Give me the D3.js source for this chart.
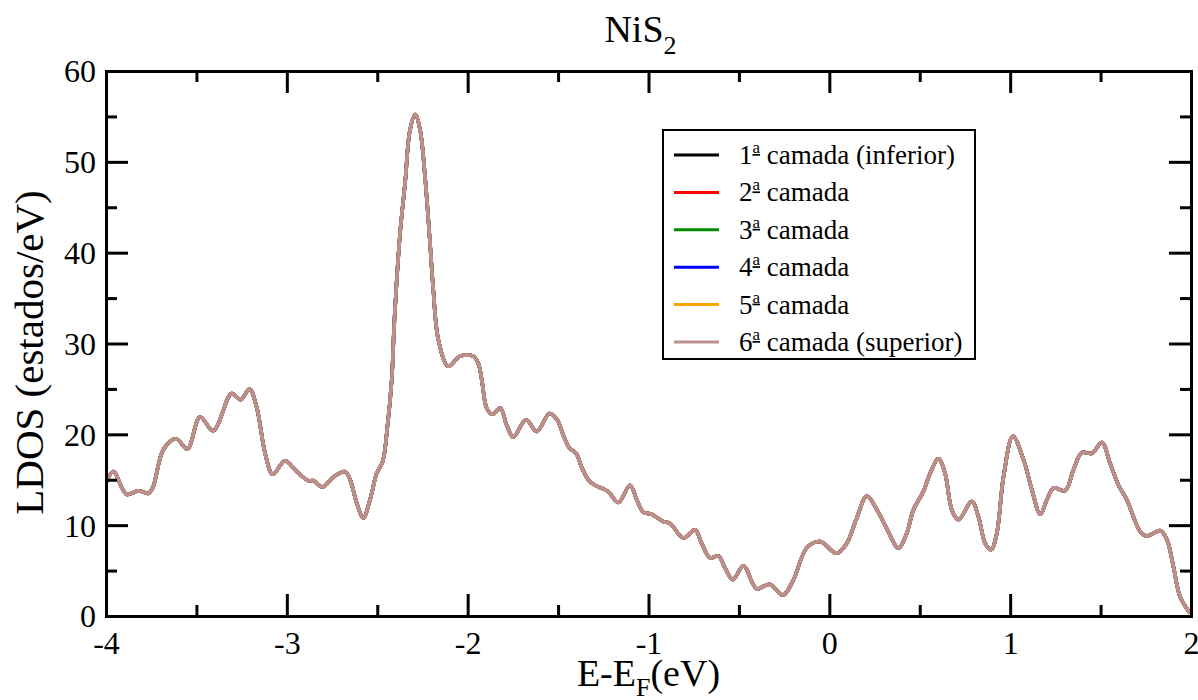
<!DOCTYPE html>
<html>
<head>
<meta charset="utf-8">
<style>
    body { margin: 0; background: #fff; }
    svg { display: block; }
    text { font-family: "Liberation Serif", serif; fill: #000; }
</style>
</head>
<body>
<svg width="1198" height="700"></svg>

<script src="https://d3js.org/d3.v7.min.js"></script>
<script>
    // energy (eV, relative to E_F) and LDOS (states/eV)
    let energy = [
        -4.0, -3.96, -3.886, -3.82, -3.766, -3.74, -3.683, -3.613, -3.55, -3.48,
        -3.407, -3.305, -3.255, -3.207, -3.167, -3.12, -3.078, -3.01, -2.945, -2.881,
        -2.853, -2.802, -2.743, -2.678, -2.65, -2.613, -2.577, -2.54, -2.503, -2.47,
        -2.444, -2.42, -2.405, -2.374, -2.346, -2.319, -2.29, -2.263, -2.236, -2.208,
        -2.19, -2.162, -2.107, -2.042, -1.969, -1.941, -1.922, -1.895, -1.864, -1.82,
        -1.784, -1.748, -1.677, -1.618, -1.548, -1.508, -1.471, -1.438, -1.40, -1.37,
        -1.333, -1.296, -1.25, -1.222, -1.167, -1.102, -1.065, -1.028, -0.982, -0.918,
        -0.881, -0.807, -0.743, -0.706, -0.66, -0.613, -0.577, -0.534, -0.475, -0.401,
        -0.331, -0.257, -0.198, -0.125, -0.051, 0.041, 0.096, 0.152, 0.207, 0.263,
        0.318, 0.382, 0.428, 0.465, 0.52, 0.557, 0.603, 0.64, 0.677, 0.714,
        0.788, 0.825, 0.862, 0.895, 0.926, 0.963, 1.015, 1.074, 1.12, 1.166,
        1.203, 1.24, 1.304, 1.35, 1.397, 1.452, 1.507, 1.553, 1.599, 1.645,
        1.719, 1.756, 1.83, 1.867, 1.903, 1.94, 1.995
    ]
    let ldos = [
        14.6, 15.9, 13.4, 13.8, 13.5, 14.2, 18.3, 19.5, 18.4, 21.9,
        20.4, 24.5, 23.8, 25.0, 23.0, 17.9, 15.6, 17.1, 15.9, 14.9,
        14.9, 14.2, 15.3, 15.9, 15.0, 12.4, 10.8, 12.8, 15.7, 17.0,
        20.8, 26.0, 32.6, 42.1, 47.7, 53.5, 55.2, 53.5, 48.4, 41.0,
        35.9, 30.4, 27.5, 28.6, 28.6, 27.8, 26.0, 22.9, 22.2, 22.9,
        21.0, 19.7, 21.6, 20.3, 22.3, 21.7, 19.9, 18.5, 17.9, 16.4,
        15.0, 14.4, 14.0, 13.7, 12.5, 14.4, 12.8, 11.4, 11.2, 10.4,
        10.2, 8.6, 9.5, 8.0, 6.4, 6.6, 5.3, 4.0, 5.5, 3.0,
        3.5, 2.3, 4.0, 7.5, 8.2, 6.9, 8.0, 10.8, 13.2, 11.7,
        9.6, 7.5, 9.1, 11.7, 13.7, 15.7, 17.3, 15.7, 11.7, 10.6,
        12.6, 10.9, 8.0, 7.3, 9.1, 15.3, 19.8, 17.2, 13.9, 11.2,
        12.8, 14.1, 13.8, 16.1, 18.0, 17.9, 19.1, 16.8, 14.4, 12.8,
        9.3, 8.8, 9.4, 8.4, 5.4, 2.1, 0.3
    ]

    // the six layers overlap exactly, only the last one drawn is visible
    let layerNum = ["1", "2", "3", "4", "5", "6"]
    let layerNote = [" (inferior)", "", "", "", "", " (superior)"]
    let layerColors = ["#000000", "#ff0000", "#008b00", "#0000ff", "#ffa500", "#bc8f8f"]

    let xTicks = [-4, -3, -2, -1, 0, 1, 2]
    let yTicks = [0, 10, 20, 30, 40, 50, 60]

    let serif = "Liberation Serif"
    let margin = { top: 71, right: 7, bottom: 84, left: 106 }
    let width = 1198
    let height = 700

    let svg = d3.select("svg")

    let x = d3.scaleLinear()
        .domain([-4, 2])
        .range([margin.left, width - margin.right])

    let y = d3.scaleLinear()
        .domain([0, 60])
        .range([height - margin.bottom, margin.top])

    let points = energy.map((e, i) => ({ e: e, v: ldos[i] }))

    svg.append("clipPath")
        .attr("id", "plot-clip")
        .append("rect")
        .attr("x", x(-4))
        .attr("y", y(60))
        .attr("width", x(2) - x(-4))
        .attr("height", y(0) - y(60))

    let line = d3.line()
        .x(d => x(d.e))
        .y(d => y(d.v))
        .curve(d3.curveCatmullRom.alpha(0.5))

    svg.append("g")
        .attr("clip-path", "url(#plot-clip)")
        .selectAll("path")
        .data(layerColors)
        .join("path")
        .attr("fill", "none")
        .attr("stroke", d => d)
        .attr("stroke-width", 3.5)
        .attr("stroke-linejoin", "round")
        .attr("d", () => line(points))

    // axes: ticks inside on all four sides, labels on bottom and left
    let xMinor = d3.range(-3.5, 2, 1)
    let yMinor = d3.range(5, 60, 10)

    function frameAxis(axisFn, scale, major, minor, transform, labels) {
        let g = svg.append("g").attr("transform", transform)
        g.call(axisFn(scale).tickValues(major).tickSize(-22).tickFormat(labels ? (d => String(d)) : ""))
        g.append("g").call(axisFn(scale).tickValues(minor).tickSize(-11).tickFormat(""))
            .call(s => s.select(".domain").remove())
        g.selectAll(".domain").attr("stroke", "#000").attr("stroke-width", 3)
        g.selectAll(".tick line").attr("stroke", "#000").attr("stroke-width", 3)
        g.attr("font-family", serif).attr("font-size", 32)
        g.selectAll("g").attr("font-family", serif).attr("font-size", 32)
        g.selectAll(".tick text").attr("font-family", serif).attr("font-size", 32).attr("fill", "#000")
        return g
    }

    let bottom = frameAxis(d3.axisBottom, x, xTicks, xMinor, `translate(0,${y(0)})`, true)
    bottom.selectAll(".tick text").attr("y", 15).attr("dy", "0.71em")
    let left = frameAxis(d3.axisLeft, y, yTicks, yMinor, `translate(${x(-4)},0)`, true)
    left.selectAll(".tick text").attr("x", -10).attr("dy", "0.34em")
    frameAxis(d3.axisTop, x, xTicks, xMinor, `translate(0,${y(60)})`, false)
    frameAxis(d3.axisRight, y, yTicks, yMinor, `translate(${x(2)},0)`, false)

    // title
    let title = svg.append("text")
        .attr("x", (x(-4) + x(2)) / 2 - 8)
        .attr("y", 42)
        .attr("text-anchor", "middle")
        .attr("font-family", serif)
        .attr("font-size", 38)
    title.append("tspan").text("NiS")
    title.append("tspan").attr("font-size", 26).attr("dy", 12).text("2")

    // axis titles
    let xTitle = svg.append("text")
        .attr("x", (x(-4) + x(2)) / 2)
        .attr("y", 686)
        .attr("text-anchor", "middle")
        .attr("font-family", serif)
        .attr("font-size", 38)
    xTitle.append("tspan").text("E-E")
    xTitle.append("tspan").attr("font-size", 26).attr("dy", 10).text("F")
    xTitle.append("tspan").attr("dy", -10).text("(eV)")

    svg.append("text")
        .attr("transform", `translate(43,${(y(0) + y(60)) / 2 + 9}) rotate(-90)`)
        .attr("text-anchor", "middle")
        .attr("font-family", serif)
        .attr("font-size", 41)
        .text("LDOS (estados/eV)")

    // legend
    let legend = svg.append("g")
    legend.append("rect")
        .attr("x", 663)
        .attr("y", 130)
        .attr("width", 312)
        .attr("height", 229)
        .attr("fill", "#fff")
        .attr("stroke", "#000")
        .attr("stroke-width", 2)

    let rows = legend.selectAll("g.row")
        .data(layerNum)
        .join("g")
        .attr("class", "row")
        .attr("transform", (d, i) => `translate(674,${155 + i * 37.4})`)

    rows.append("line")
        .attr("x1", 0)
        .attr("x2", 45)
        .attr("stroke", (d, i) => layerColors[i])
        .attr("stroke-width", 3)

    let labels = rows.append("text")
        .attr("x", 65)
        .attr("y", 9)
        .attr("font-family", serif)
        .attr("font-size", 27)
    labels.append("tspan").text(d => d)
    labels.append("tspan")
        .attr("font-size", 17)
        .attr("dy", -11)
        .attr("text-decoration", "underline")
        .text("a")
    labels.append("tspan")
        .attr("dy", 11)
        .text((d, i) => " camada" + layerNote[i])
</script>
</body>
</html>
